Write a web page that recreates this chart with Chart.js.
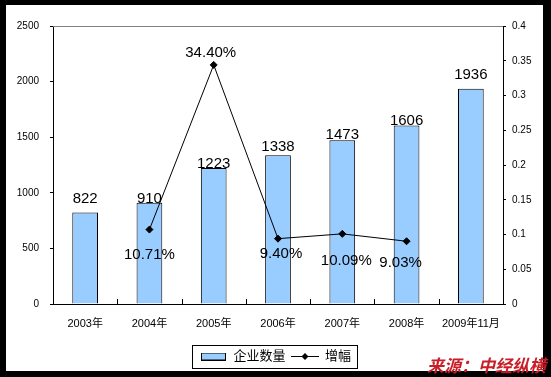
<!DOCTYPE html>
<html><head><meta charset="utf-8">
<script src="https://cdn.jsdelivr.net/npm/chart.js@4.4.0/dist/chart.umd.min.js"></script>
<style>
html,body{margin:0;padding:0;background:#000;width:551px;height:377px;overflow:hidden}
#bg{position:absolute;left:6px;top:5px;width:537px;height:366px;background:#fff}
#wrap{position:absolute;left:0;top:0;width:551px;height:377px}
#src{position:absolute;left:427px;top:355px;font:italic bold 17px "Noto Sans CJK SC",sans-serif;color:#C81E28;line-height:20px;white-space:nowrap}
</style></head><body>
<div id="bg"></div>
<div id="wrap"><canvas id="c" width="551" height="377"></canvas></div>
<div id="src">来源：中经纵横</div>
<script>
// ---- data ----
const categories = ['2003年','2004年','2005年','2006年','2007年','2008年','2009年11月'];
const companyCount = [822, 910, 1223, 1338, 1473, 1606, 1936];
const growthRate = [null, 0.1071, 0.344, 0.094, 0.1009, 0.0903, null];
const growthLabels = [null, '10.71%', '34.40%', '9.40%', '10.09%', '9.03%', null];
const seriesNames = ['企业数量', '增幅'];
const leftAxisMax = 2500, leftAxisStep = 500;
const rightAxisMax = 0.4, rightAxisStep = 0.05;

// ---- label placement (style, not data) ----
const barLabelLift = [10, 0, 0, 4, 1, 0, 10];
const pctLabelDx = [0, 0, -3, 3, 4, -6, 0];
const pctLabelDy = [0, 29, -8, 19, 31, 26, 0];

const FONT = 'Arial, "Liberation Sans", "Noto Sans CJK SC", sans-serif';

function makeBarIcon(){
  const c = document.createElement('canvas'); c.width = 25; c.height = 8;
  const x = c.getContext('2d');
  x.fillStyle = '#99CCFF'; x.fillRect(0,0,25,8);
  x.strokeStyle = '#000'; x.lineWidth = 1; x.strokeRect(0.5,0.5,24,7);
  return c;
}
function makeLineIcon(){
  const c = document.createElement('canvas'); c.width = 28; c.height = 9;
  const x = c.getContext('2d');
  x.strokeStyle = '#000'; x.lineWidth = 1;
  x.beginPath(); x.moveTo(0,4.5); x.lineTo(28,4.5); x.stroke();
  x.fillStyle = '#000'; x.beginPath();
  x.moveTo(14,1); x.lineTo(17.5,4.5); x.lineTo(14,8); x.lineTo(10.5,4.5); x.closePath(); x.fill();
  return c;
}
const barIcon = makeBarIcon(), lineIcon = makeLineIcon();

const decorPlugin = {
  id: 'decor',
  beforeDatasetsDraw(chart){
    const {ctx, chartArea: a, scales: {x}} = chart;
    ctx.save();
    ctx.strokeStyle = '#808080'; ctx.lineWidth = 1;
    ctx.beginPath(); ctx.moveTo(a.left, Math.round(a.top)+0.5); ctx.lineTo(a.right, Math.round(a.top)+0.5); ctx.stroke();
    ctx.strokeStyle = '#000';
    for (let i = 1; i < categories.length; i++) {
      const px = Math.round((x.getPixelForTick(i-1) + x.getPixelForTick(i)) / 2) + 0.5;
      ctx.beginPath(); ctx.moveTo(px, a.bottom - 5); ctx.lineTo(px, a.bottom); ctx.stroke();
    }
    ctx.restore();
  },
  afterDatasetsDraw(chart){
    const ctx = chart.ctx;
    ctx.save();
    ctx.font = '15px ' + FONT;
    ctx.fillStyle = '#000';
    ctx.textAlign = 'center';
    ctx.textBaseline = 'alphabetic';
    chart.getDatasetMeta(0).data.forEach((el, i) => {
      ctx.fillText(String(companyCount[i]), el.x, el.y - barLabelLift[i]);
    });
    chart.getDatasetMeta(1).data.forEach((el, i) => {
      if (growthRate[i] == null) return;
      ctx.fillText(growthLabels[i], el.x + pctLabelDx[i], el.y + pctLabelDy[i]);
    });
    ctx.restore();
  },
  afterDraw(chart){
    const hb = chart.legend && chart.legend.legendHitBoxes;
    if (!hb || !hb.length) return;
    const ctx = chart.ctx;
    const x0 = Math.min(...hb.map(h => h.left)) - 8;
    const x1 = Math.max(...hb.map(h => h.left + h.width)) + 6;
    const y0 = hb[0].top - 5, y1 = hb[0].top + hb[0].height + 5;
    ctx.save(); ctx.strokeStyle = '#000'; ctx.lineWidth = 1;
    ctx.strokeRect(Math.round(x0)+0.5, Math.round(y0)+0.5, Math.round(x1-x0), Math.round(y1-y0));
    ctx.restore();
  }
};

new Chart(document.getElementById('c'), {
  data: {
    labels: categories,
    datasets: [
      { type: 'bar', label: seriesNames[0], data: companyCount, yAxisID: 'y',
        backgroundColor: '#99CCFF', borderColor: '#000', borderWidth: 1,
        barPercentage: 0.4, categoryPercentage: 1, order: 1 },
      { type: 'line', label: seriesNames[1], data: growthRate, yAxisID: 'y1',
        borderColor: '#000', borderWidth: 1, tension: 0, spanGaps: false,
        pointStyle: 'rectRot', pointRadius: 3.5, pointBackgroundColor: '#000', pointBorderColor: '#000',
        pointBorderWidth: 1, order: 0 }
    ]
  },
  options: {
    responsive: false, devicePixelRatio: 1, animation: false,
    layout: { padding: { top: 26, bottom: 4, left: 0, right: 0 } },
    plugins: {
      tooltip: { enabled: false },
      legend: {
        position: 'bottom',
        labels: {
          font: { size: 13, family: FONT }, color: '#000',
          usePointStyle: true, pointStyleWidth: 27, padding: 6, boxHeight: 13,
          generateLabels(chart){
            const items = Chart.defaults.plugins.legend.labels.generateLabels(chart);
            items.sort((a,b) => a.datasetIndex - b.datasetIndex);
            items.forEach(it => { it.pointStyle = it.datasetIndex === 0 ? barIcon : lineIcon; it.lineWidth = 0; });
            return items;
          }
        }
      }
    },
    scales: {
      x: {
        grid: { display: false, drawTicks: false },
        border: { display: true, color: '#000', width: 1 },
        ticks: { font: { size: 11, family: FONT }, color: '#000', padding: 13, maxRotation: 0, autoSkip: false },
        afterFit(s){ s.height = 40; }
      },
      y: {
        position: 'left', min: 0, max: leftAxisMax,
        grid: { drawOnChartArea: false, drawTicks: true, tickLength: 3, color: '#000' },
        border: { display: true, color: '#000', width: 1 },
        ticks: { stepSize: leftAxisStep, font: { size: 10, family: FONT }, color: '#000', padding: 11,
                 callback: v => String(v) },
        afterFit(s){ s.width = 53; }
      },
      y1: {
        position: 'right', min: 0, max: rightAxisMax,
        grid: { drawOnChartArea: false, drawTicks: true, tickLength: 3, color: '#000' },
        border: { display: true, color: '#000', width: 1 },
        ticks: { stepSize: rightAxisStep, font: { size: 10, family: FONT }, color: '#000', padding: 6,
                 callback: v => String(+Number(v).toFixed(2)) },
        afterFit(s){ s.width = 48; }
      }
    }
  },
  plugins: [decorPlugin]
});
</script>
</body></html>
